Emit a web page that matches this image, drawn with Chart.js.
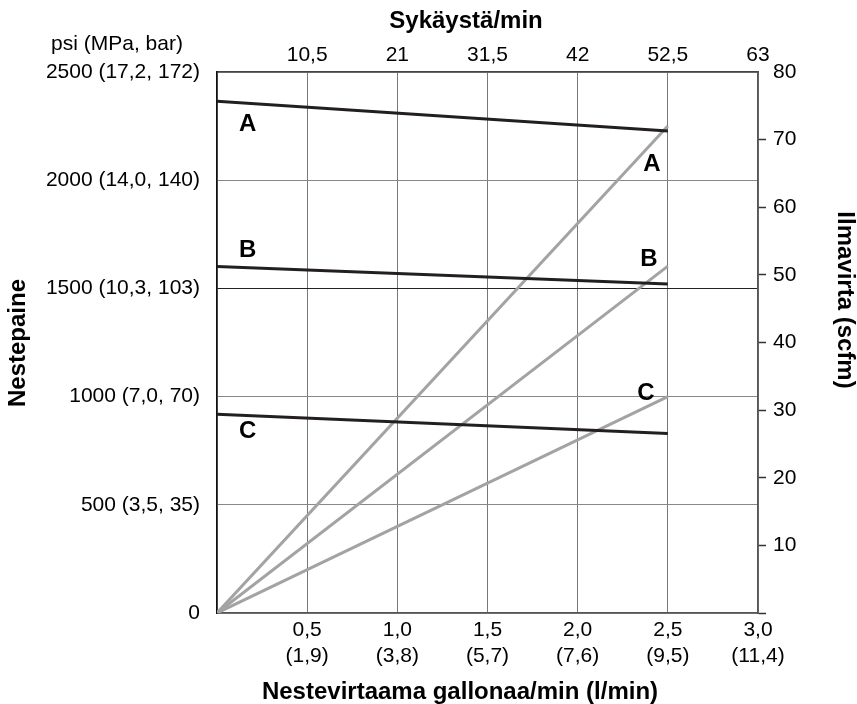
<!DOCTYPE html>
<html>
<head>
<meta charset="utf-8">
<script src="https://cdn.jsdelivr.net/npm/chart.js@4.4.1/dist/chart.umd.min.js"></script>
<style>
  html, body { margin: 0; padding: 0; background: #fff; }
  canvas { display: block; }
</style>
</head>
<body>
<canvas id="pumpChart" width="857" height="704"></canvas>
<script>
// Flow endpoints (gpm) shared by every curve
const flowGpm = [0, 2.5];

// Fluid pressure (psi) for curves A, B, C
const pressureA = [2365, 2227];
const pressureB = [1601, 1520];
const pressureC = [919, 830];

// Air consumption (scfm) for curves A, B, C
const airA = [0, 72];
const airB = [0, 51.3];
const airC = [0, 32];

const curveNames = ['A', 'B', 'C'];

// Axis labels
const flowTicks = ['0,5', '1,0', '1,5', '2,0', '2,5', '3,0'];
const flowLitres = ['(1,9)', '(3,8)', '(5,7)', '(7,6)', '(9,5)', '(11,4)'];
const strokeTicks = ['10,5', '21', '31,5', '42', '52,5', '63'];
const pressureTicks = ['0', '500 (3,5, 35)', '1000 (7,0, 70)', '1500 (10,3, 103)', '2000 (14,0, 140)', '2500 (17,2, 172)'];
const airTicks = ['10', '20', '30', '40', '50', '60', '70', '80'];

const FONT = "'Liberation Sans', Arial, Helvetica, sans-serif";
const DARK = '#231f20';
const GREY_LINE = '#a3a3a3';

function pts(ys) {
    return flowGpm.map((x, i) => ({ x: x, y: ys[i] }));
}

function pressureSet(name, ys) {
    return {
        label: 'Paine ' + name,
        data: pts(ys),
        yAxisID: 'y',
        borderColor: DARK,
        borderWidth: 3,
        pointRadius: 0,
        order: 0
    };
}

function airSet(name, ys) {
    return {
        label: 'Ilma ' + name,
        data: pts(ys),
        yAxisID: 'y2',
        borderColor: GREY_LINE,
        borderWidth: 3,
        pointRadius: 0,
        order: 1
    };
}

// Titles and curve letters
const textPlugin = {
    id: 'chartTexts',
    afterDatasetsDraw(chart) {
        const ctx = chart.ctx;
        const xs = chart.scales.x;
        const ys = chart.scales.y;
        const ys2 = chart.scales.y2;
        ctx.save();
        ctx.fillStyle = '#000';
        ctx.textAlign = 'center';
        ctx.textBaseline = 'middle';

        ctx.font = 'bold 24px ' + FONT;
        ctx.fillText('Sykäystä/min', 466, 21);
        ctx.fillText('Nestevirtaama gallonaa/min (l/min)', 460, 692);

        ctx.save();
        ctx.translate(18, 343);
        ctx.rotate(-Math.PI / 2);
        ctx.fillText('Nestepaine', 0, 0);
        ctx.restore();

        ctx.save();
        ctx.translate(845, 300);
        ctx.rotate(Math.PI / 2);
        ctx.fillText('Ilmavirta (scfm)', 0, 0);
        ctx.restore();

        ctx.font = '21px ' + FONT;
        ctx.fillText('psi (MPa, bar)', 117, 44);

        // letters next to the pressure curves (left) and air curves (right)
        ctx.font = 'bold 24px ' + FONT;
        const pressure = [pressureA, pressureB, pressureC];
        const air = [airA, airB, airC];
        const leftDy = [21, -17, 16];
        const rightOff = [[-16, 38], [-19, -7], [-22, -3]];
        const xl = xs.getPixelForValue(0.17);
        const xr = xs.getPixelForValue(flowGpm[1]);
        curveNames.forEach((n, i) => {
            const p = pressure[i];
            const t = (0.17 - flowGpm[0]) / (flowGpm[1] - flowGpm[0]);
            const yl = ys.getPixelForValue(p[0] + (p[1] - p[0]) * t);
            ctx.fillText(n, xl, yl + leftDy[i]);
            const yr = ys2.getPixelForValue(air[i][1]);
            ctx.fillText(n, xr + rightOff[i][0], yr + rightOff[i][1]);
        });
        ctx.restore();
    }
};

new Chart(document.getElementById('pumpChart'), {
    type: 'line',
    data: {
        datasets: [
            pressureSet('A', pressureA),
            pressureSet('B', pressureB),
            pressureSet('C', pressureC),
            airSet('A', airA),
            airSet('B', airB),
            airSet('C', airC)
        ]
    },
    options: {
        responsive: false,
        animation: false,
        layout: { padding: 0 },
        plugins: {
            legend: { display: false },
            tooltip: { enabled: false }
        },
        scales: {
            x: {
                type: 'linear',
                position: 'bottom',
                min: 0,
                max: 3,
                afterFit: s => { s.height = 91; },
                ticks: {
                    stepSize: 0.5,
                    maxRotation: 0,
                    padding: 5,
                    color: '#000',
                    font: { family: FONT, size: 21, lineHeight: 1.2 },
                    callback: (v, i) => i === 0 ? '' : [flowTicks[i - 1], flowLitres[i - 1]]
                },
                grid: { color: '#777', lineWidth: 1, drawTicks: false },
                border: { color: '#555', width: 1.5 }
            },
            x2: {
                type: 'linear',
                position: 'top',
                min: 0,
                max: 63,
                afterFit: s => { s.height = 72; },
                ticks: {
                    stepSize: 10.5,
                    maxRotation: 0,
                    padding: 4,
                    color: '#000',
                    font: { family: FONT, size: 21 },
                    callback: (v, i) => i === 0 ? '' : strokeTicks[i - 1]
                },
                grid: { drawOnChartArea: false, drawTicks: false },
                border: { color: '#444', width: 1.5 }
            },
            y: {
                type: 'linear',
                position: 'left',
                min: 0,
                max: 2500,
                afterFit: s => { s.width = 217; },
                ticks: {
                    stepSize: 500,
                    padding: 17,
                    color: '#000',
                    font: { family: FONT, size: 21 },
                    callback: (v, i) => pressureTicks[i]
                },
                grid: {
                    color: ctx => ctx.tick && ctx.tick.value === 1500 ? '#222' : '#888',
                    lineWidth: 1,
                    drawTicks: false
                },
                border: { color: '#111', width: 1.5 }
            },
            y2: {
                type: 'linear',
                position: 'right',
                min: 0,
                max: 80,
                afterFit: s => { s.width = 99; },
                ticks: {
                    stepSize: 10,
                    padding: 7,
                    color: '#000',
                    font: { family: FONT, size: 21 },
                    callback: (v, i) => i === 0 ? '' : airTicks[i - 1]
                },
                grid: {
                    drawOnChartArea: false,
                    drawTicks: true,
                    tickLength: 8,
                    tickWidth: 1.5,
                    tickColor: ctx => ctx.tick && ctx.tick.value === 80 ? 'rgba(0,0,0,0)' : '#333'
                },
                border: { color: '#555', width: 1.5 }
            }
        }
    },
    plugins: [textPlugin]
});
</script>
</body>
</html>
